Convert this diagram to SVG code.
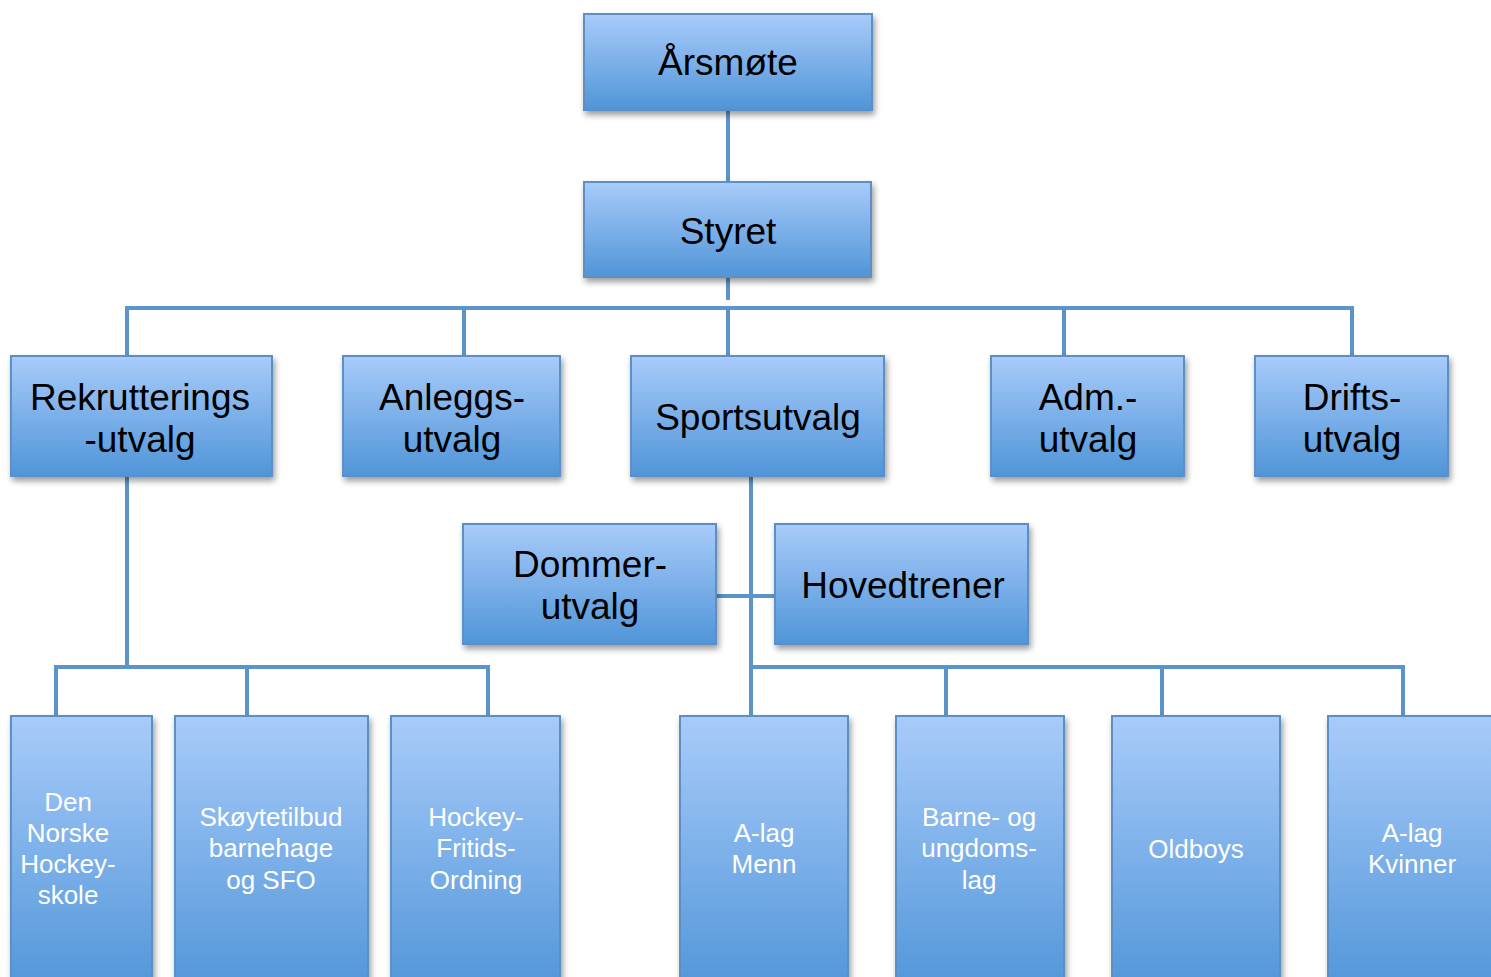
<svg xmlns="http://www.w3.org/2000/svg" width="1491" height="977" viewBox="0 0 1491 977">
<defs>
<linearGradient id="g" x1="0" y1="0" x2="0" y2="1">
<stop offset="0" stop-color="#a8cbfa"/>
<stop offset="1" stop-color="#5095d8"/>
</linearGradient>
<linearGradient id="gt" x1="0" y1="0" x2="0" y2="977" gradientUnits="userSpaceOnUse">
<stop offset="0.733" stop-color="#a8cbfa"/>
<stop offset="1" stop-color="#5a99da"/>
</linearGradient>
<filter id="sh" x="-10%" y="-10%" width="130%" height="130%">
<feGaussianBlur in="SourceAlpha" stdDeviation="3"/>
<feOffset dx="2" dy="4" result="b"/>
<feComponentTransfer><feFuncA type="linear" slope="0.4"/></feComponentTransfer>
<feMerge><feMergeNode/><feMergeNode in="SourceGraphic"/></feMerge>
</filter>
</defs>
<style>
.box{fill:url(#g);stroke:#5c8fc4;stroke-width:2;filter:url(#sh)}
.tall{fill:url(#g);stroke:#5c8fc4;stroke-width:2;filter:url(#sh)}
.t{font-family:"Liberation Sans",Arial,sans-serif;font-size:37px;fill:#000;text-anchor:middle}
.w{font-family:"Liberation Sans",Arial,sans-serif;font-size:26px;fill:#fff;text-anchor:middle}
.c{stroke:#5c93c8;stroke-width:4;fill:none}
</style>
<rect width="1491" height="977" fill="#fff"/>
<g id="connectors" class="c">
<line x1="728" y1="110" x2="728" y2="182"/>
<line x1="728" y1="277" x2="728" y2="300"/>
<line x1="125" y1="308" x2="1354" y2="308"/>
<line x1="127" y1="308" x2="127" y2="356"/>
<line x1="464" y1="308" x2="464" y2="356"/>
<line x1="728" y1="308" x2="728" y2="356"/>
<line x1="1064" y1="308" x2="1064" y2="356"/>
<line x1="1352" y1="308" x2="1352" y2="356"/>
<line x1="127" y1="476" x2="127" y2="667"/>
<line x1="54" y1="667" x2="490" y2="667"/>
<line x1="56" y1="667" x2="56" y2="716"/>
<line x1="247" y1="667" x2="247" y2="716"/>
<line x1="488" y1="667" x2="488" y2="716"/>
<line x1="751" y1="476" x2="751" y2="716"/>
<line x1="716" y1="596" x2="775" y2="596"/>
<line x1="751" y1="667" x2="1405" y2="667"/>
<line x1="946" y1="667" x2="946" y2="716"/>
<line x1="1162" y1="667" x2="1162" y2="716"/>
<line x1="1403" y1="667" x2="1403" y2="716"/>
</g>
<g id="n-arsmote"><rect class="box" x="584" y="14" width="288" height="96"/><text class="t" x="728" y="75">Årsmøte</text></g>
<g id="n-styret"><rect class="box" x="584" y="182" width="287" height="95"/><text class="t" x="728" y="244">Styret</text></g>
<g id="n-rekr"><rect class="box" x="11" y="356" width="261" height="120"/><text class="t" x="140" y="410">Rekrutterings</text><text class="t" x="140" y="452">-utvalg</text></g>
<g id="n-anlegg"><rect class="box" x="343" y="356" width="217" height="120"/><text class="t" x="452" y="410">Anleggs-</text><text class="t" x="452" y="452">utvalg</text></g>
<g id="n-sport"><rect class="box" x="631" y="356" width="253" height="120"/><text class="t" x="758" y="430">Sportsutvalg</text></g>
<g id="n-adm"><rect class="box" x="991" y="356" width="193" height="120"/><text class="t" x="1088" y="410">Adm.-</text><text class="t" x="1088" y="452">utvalg</text></g>
<g id="n-drift"><rect class="box" x="1255" y="356" width="193" height="120"/><text class="t" x="1352" y="410">Drifts-</text><text class="t" x="1352" y="452">utvalg</text></g>
<g id="n-dommer"><rect class="box" x="463" y="524" width="253" height="120"/><text class="t" x="590" y="577">Dommer-</text><text class="t" x="590" y="619">utvalg</text></g>
<g id="n-hoved"><rect class="box" x="775" y="524" width="253" height="120"/><text class="t" x="903" y="598">Hovedtrener</text></g>
<g id="n-den"><rect class="tall" x="11" y="716" width="141" height="280"/><text class="w" x="68" y="811">Den</text><text class="w" x="68" y="842">Norske</text><text class="w" x="68" y="873">Hockey-</text><text class="w" x="68" y="904">skole</text></g>
<g id="n-skoyte"><rect class="tall" x="175" y="716" width="193" height="280"/><text class="w" x="271" y="826">Skøytetilbud</text><text class="w" x="271" y="857">barnehage</text><text class="w" x="271" y="889">og SFO</text></g>
<g id="n-hockey"><rect class="tall" x="391" y="716" width="169" height="280"/><text class="w" x="476" y="826">Hockey-</text><text class="w" x="476" y="857">Fritids-</text><text class="w" x="476" y="889">Ordning</text></g>
<g id="n-alagm"><rect class="tall" x="680" y="716" width="168" height="280"/><text class="w" x="764" y="842">A-lag</text><text class="w" x="764" y="873">Menn</text></g>
<g id="n-barne"><rect class="tall" x="896" y="716" width="168" height="280"/><text class="w" x="979" y="826">Barne- og</text><text class="w" x="979" y="857">ungdoms-</text><text class="w" x="979" y="889">lag</text></g>
<g id="n-old"><rect class="tall" x="1112" y="716" width="168" height="280"/><text class="w" x="1196" y="858">Oldboys</text></g>
<g id="n-alagk"><rect class="tall" x="1328" y="716" width="180" height="280"/><text class="w" x="1412" y="842">A-lag</text><text class="w" x="1412" y="873">Kvinner</text></g>
</svg>
